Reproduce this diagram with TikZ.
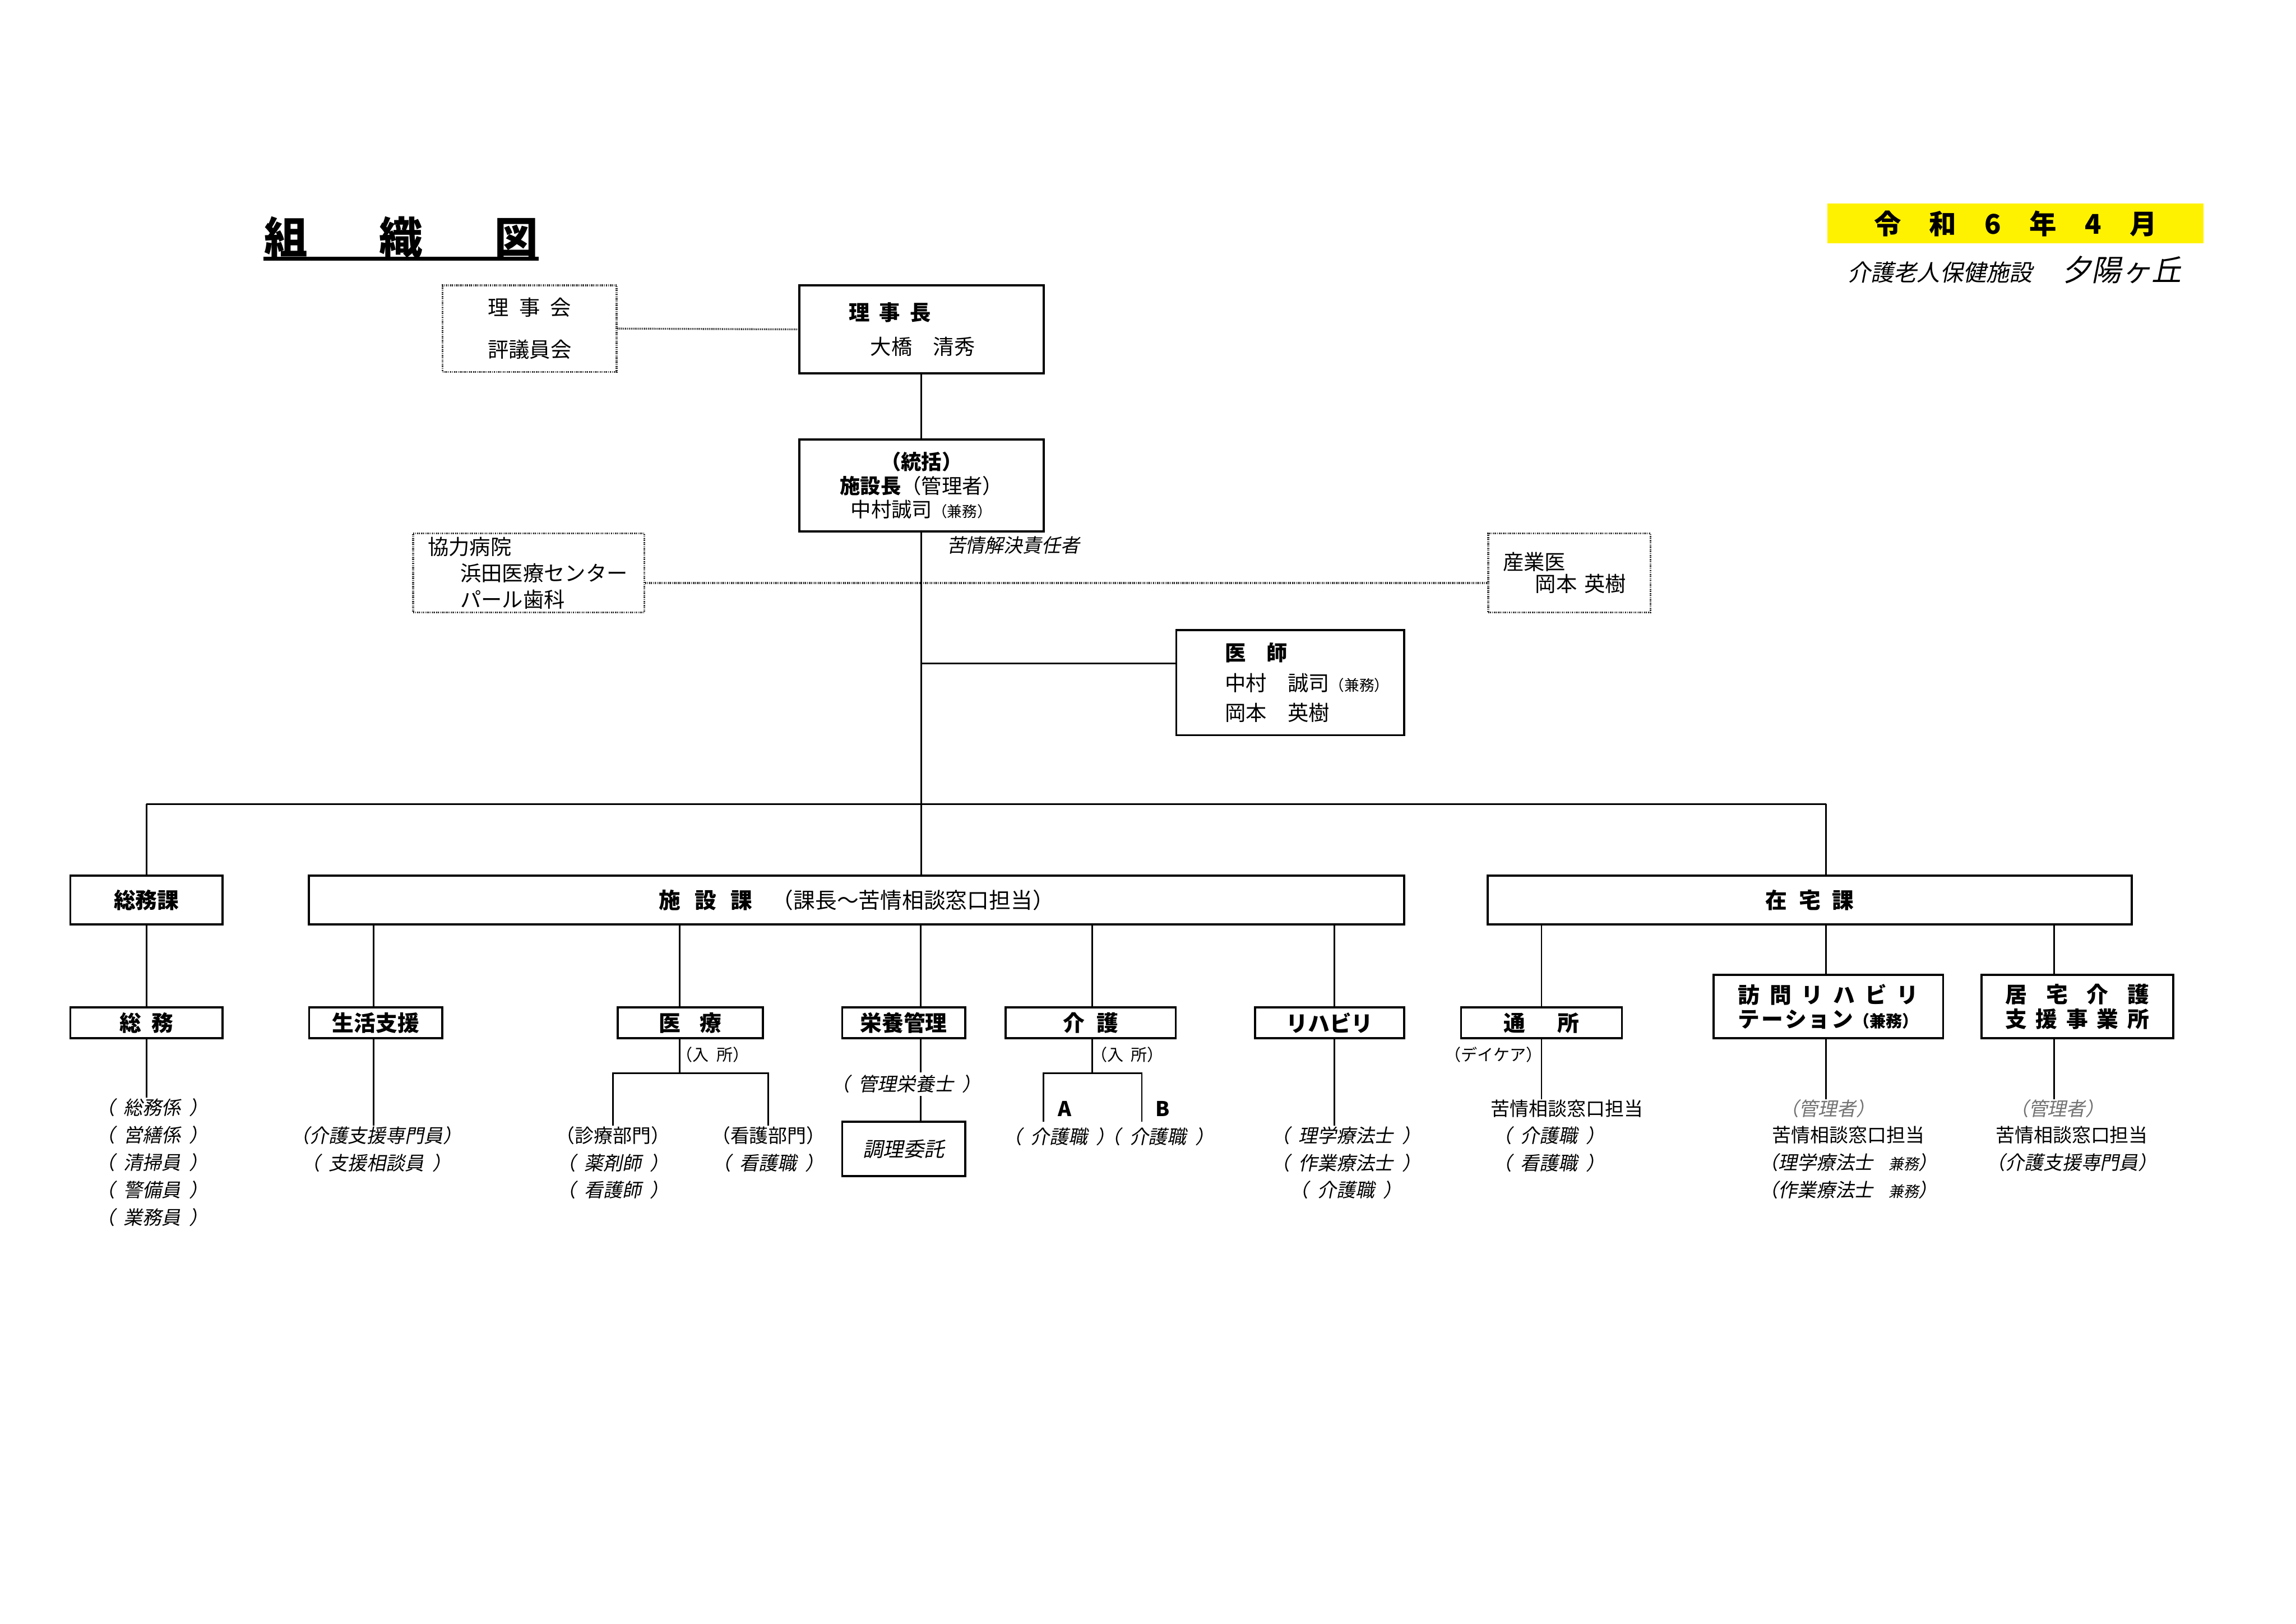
\documentclass[tikz,border=0pt]{standalone}
\usepackage{fontspec}
\setmainfont{Noto Sans CJK JP}[ItalicFont={Noto Sans CJK JP}, ItalicFeatures={FakeSlant=0.2}]
\usetikzlibrary{calc}
\newcommand{\widespace}{\spaceskip=0.45em\relax}
\tikzset{
    box/.style = {rectangle, draw=black, line width=0.75pt, inner sep=0pt, align=center, font=\fontsize{8}{9.5}\selectfont\bfseries},
    namebox/.style = {rectangle, draw=black, line width=0.75pt, inner sep=0pt, align=left, font=\fontsize{7.7}{9}\selectfont},
    dotbox/.style = {rectangle, draw=black!85, dash pattern=on 0.35pt off 0.35pt, line width=0.7pt, inner sep=0pt, align=left, font=\fontsize{7.7}{9.7}\selectfont},
    conn/.style = {line width=0.6pt},
    dotline/.style = {draw=black!85, dash pattern=on 0.35pt off 0.35pt, line width=0.7pt},
    staff/.style = {inner sep=0pt, align=center, anchor=north, font=\fontsize{7}{10.1}\selectfont\itshape\widespace},
    note/.style = {inner sep=0pt, font=\fontsize{6}{7}\selectfont\widespace}
}

\begin{document}
\begin{tikzpicture}
\useasboundingbox[fill=white] (0,0) rectangle (29.7,-21.0);

% heading
\node[inner sep=0pt, font=\fontsize{16}{18}\selectfont\bfseries] (title) at (5.19,-3.07) {組\hspace{0.93cm}織\hspace{0.93cm}図};
\draw[line width=1.3pt] (title.south west) -- (title.south east);
\node[fill=yellow, minimum width=4.87cm, minimum height=0.51cm, inner sep=0pt, font=\fontsize{10}{12}\selectfont\bfseries] (date) at (26.07,-2.89) {\makebox[3.66cm][s]{令\hfill 和\hfill 6\hfill 年\hfill 4\hfill 月}};
\node[inner sep=0pt, font=\itshape] (facility) at (26.06,-3.49) {{\fontsize{8.5}{10}\selectfont 介護老人保健施設}\hspace{0.38cm}{\fontsize{11}{13}\selectfont 夕陽ヶ丘}};

% top management
\node[dotbox, align=center, minimum width=2.25cm, minimum height=1.12cm] (rijikai) at (6.85,-4.25) {\makebox[1.08cm][s]{理\hfill 事\hfill 会}\\[0.2cm]評議員会};
\node[namebox, minimum height=1.14cm, text width=1.88cm, inner xsep=0.64cm] (rijicho) at (11.92,-4.26) {\textbf{\makebox[1.06cm][s]{理\hfill 事\hfill 長}}\\[0.12cm]\hspace*{0.28cm}大橋　清秀};
\node[namebox, align=center, minimum width=3.16cm, minimum height=1.19cm, font=\fontsize{7.5}{8.8}\selectfont] (shisetsucho) at (11.92,-6.28) {\textbf{（統括）}\\\textbf{施設長}（管理者）\\中村誠司{\fontsize{5.5}{6}\selectfont（兼務）}};
\node[note, anchor=west, font=\fontsize{7}{8}\selectfont\itshape] (kujo) at (12.24,-7.05) {苦情解決責任者};
\node[dotbox, minimum height=1.02cm, text width=2.61cm, inner xsep=0.19cm] (kyoryoku) at (6.84,-7.41) {協力病院\\\hspace*{0.42cm}浜田医療センター\\\hspace*{0.42cm}パール歯科};
\node[dotbox, minimum height=1.02cm, text width=1.72cm, inner xsep=0.19cm, font=\fontsize{7.7}{8}\selectfont] (sangyoui) at (20.30,-7.41) {産業医\\\hspace*{0.42cm}岡本 英樹};
\node[namebox, minimum height=1.36cm, text width=1.69cm, inner xsep=0.63cm, font=\fontsize{7.7}{11}\selectfont] (ishi) at (16.69,-8.83) {\textbf{医　師}\\中村　誠司{\fontsize{5.5}{6}\selectfont（兼務）}\\岡本　英樹};

% sections
\node[box, minimum width=1.97cm, minimum height=0.63cm] (soumuka) at (1.895,-11.64) {総務課};
\node[box, minimum width=14.17cm, minimum height=0.63cm] (shisetsuka) at (11.08,-11.64) {\makebox[1.21cm][s]{施\hfill 設\hfill 課}\hspace{0.25cm}\mdseries（課長～苦情相談窓口担当）};
\node[box, minimum width=8.33cm, minimum height=0.63cm] (zaitakuka) at (23.41,-11.64) {\makebox[1.14cm][s]{在\hfill 宅\hfill 課}};

% units
\node[box, minimum width=1.97cm, minimum height=0.40cm] (soumu) at (1.895,-13.23) {\makebox[0.70cm][s]{総\hfill 務}};
\node[box, minimum width=1.72cm, minimum height=0.40cm] (seikatsu) at (4.86,-13.23) {生活支援};
\node[box, minimum width=1.88cm, minimum height=0.40cm] (iryo) at (8.93,-13.23) {\makebox[0.81cm][s]{医\hfill 療}};
\node[box, minimum width=1.59cm, minimum height=0.40cm] (eiyo) at (11.69,-13.23) {栄養管理};
\node[box, minimum width=2.20cm, minimum height=0.40cm] (kaigo) at (14.11,-13.23) {\makebox[0.72cm][s]{介\hfill 護}};
\node[box, minimum width=1.93cm, minimum height=0.40cm] (riha) at (17.20,-13.23) {リハビリ};
\node[box, minimum width=2.08cm, minimum height=0.40cm] (tsusho) at (19.94,-13.23) {\makebox[0.98cm][s]{通\hfill 所}};
\node[box, minimum width=2.97cm, minimum height=0.82cm, font=\fontsize{8}{9}\selectfont\bfseries] (houmon) at (23.65,-13.02) {\makebox[2.33cm][s]{訪\hfill 問\hfill リ\hfill ハ\hfill ビ\hfill リ}\\\makebox[2.33cm][s]{テ\hfill ー\hfill シ\hfill ョ\hfill ン{\fontsize{6}{7}\selectfont（兼務）}}};
\node[box, minimum width=2.48cm, minimum height=0.82cm, font=\fontsize{8}{9}\selectfont\bfseries] (kyotaku) at (26.87,-13.02) {\makebox[1.86cm][s]{居\hfill 宅\hfill 介\hfill 護}\\\makebox[1.86cm][s]{支\hfill 援\hfill 事\hfill 業\hfill 所}};

% main lines
\draw[dotline] (rijikai.east) -- (rijicho.west);
\draw[conn] (rijicho) -- (shisetsucho);
\draw[dotline] ([yshift=-0.13cm]kyoryoku.east) -- ([yshift=-0.13cm]sangyoui.west);
\draw[conn] (shisetsucho.south) -- (shisetsucho.south |- shisetsuka.north);
\coordinate (ishijoin) at (11.92,-8.58);
\draw[conn] (ishijoin) -- (ishijoin -| ishi.west);
\coordinate (busl) at (1.895,-10.40);
\coordinate (busr) at (23.62,-10.40);
\draw[conn] (busl) -- (busr);
\draw[conn] (busl) -- (busl |- soumuka.north);
\draw[conn] (busr) -- (busr |- zaitakuka.north);

\draw[conn] (soumuka) -- (soumu);
\foreach \x/\n in {4.83/seikatsu, 8.79/iryo, 11.91/eiyo, 14.13/kaigo, 17.26/riha}
    \draw[conn] (shisetsuka.south -| \x,0) -- (\n.north -| \x,0);
\foreach \x/\n in {19.94/tsusho, 23.62/houmon, 26.57/kyotaku}
    \draw[conn] (zaitakuka.south -| \x,0) -- (\n.north -| \x,0);

% staff
\node[staff] (soumustaff) at (1.97,-14.20) {（ 総務係 ）\\（ 営繕係 ）\\（ 清掃員 ）\\（ 警備員 ）\\（ 業務員 ）};
\draw[conn] (soumu) -- (soumu.south |- soumustaff.north);

\node[staff] (seikatsustaff) at (4.87,-14.56) {（介護支援専門員）\\（ 支援相談員 ）};
\draw[conn] (seikatsu.south -| 4.83,0) -- (seikatsustaff.north -| 4.83,0);

\coordinate (iryofork) at (8.79,-13.88);
\node[note] (iryonyusho) at (9.22,-13.64) {（入 所）};
\node[staff] (shinryo) at (7.93,-14.56) {{\upshape（診療部門）}\\（ 薬剤師 ）\\（ 看護師 ）};
\node[staff] (kangobu) at (9.94,-14.56) {{\upshape（看護部門）}\\（ 看護職 ）};
\draw[conn] (iryo.south -| iryofork) -- (iryofork);
\draw[conn] (shinryo.north) |- (iryofork) -| (kangobu.north);

\node[box, font=\fontsize{7.5}{9}\selectfont\itshape, minimum width=1.59cm, minimum height=0.70cm] (chouri) at (11.69,-14.86) {調理委託};
\draw[conn] (eiyo.south -| 11.91,0) -- (chouri.north -| 11.91,0);
\node[staff, anchor=center, fill=white, inner sep=1pt] (eiyostaff) at (11.72,-14.02) {（ 管理栄養士 ）};

\coordinate (kaigofork) at (14.13,-13.88);
\coordinate (kaigoa) at (13.50,-14.51);
\coordinate (kaigob) at (14.77,-14.51);
\node[note] (kaigonyusho) at (14.58,-13.64) {（入 所）};
\draw[conn] (kaigo.south -| kaigofork) -- (kaigofork);
\draw[conn] (kaigoa) |- (kaigofork) -| (kaigob);
\node[note, font=\fontsize{7.5}{9}\selectfont\bfseries] (unita) at (13.77,-14.34) {A};
\node[note, font=\fontsize{7.5}{9}\selectfont\bfseries] (unitb) at (15.04,-14.34) {B};
\node[staff, anchor=center] (kaigostaffa) at (13.70,-14.70) {（ 介護職 ）};
\node[staff, anchor=center] (kaigostaffb) at (14.98,-14.70) {（ 介護職 ）};

\node[staff] (rihastaff) at (17.41,-14.56) {（ 理学療法士 ）\\（ 作業療法士 ）\\（ 介護職 ）};
\draw[conn] (riha.south -| 17.26,0) -- (rihastaff.north -| 17.26,0);

\node[note] (daycare) at (19.32,-13.64) {（デイケア）};
\node[staff, anchor=center, font=\fontsize{7}{10.1}\selectfont] (tsusholead) at (20.27,-14.34) {苦情相談窓口担当};
\node[staff] (tsushostaff) at (20.04,-14.56) {（ 介護職 ）\\（ 看護職 ）};
\draw[conn] (tsusho) -- (tsusho.south |- tsusholead.north);

\node[staff, anchor=center, text=black!55] (houmonmgr) at (23.64,-14.34) {（管理者）};
\node[staff, font=\fontsize{7}{10.1}\selectfont] (houmonstaff) at (23.91,-14.56) {苦情相談窓口担当\\{\itshape（理学療法士\hspace{0.2cm}{\fontsize{5.5}{6}\selectfont 兼務}）}\\{\itshape（作業療法士\hspace{0.2cm}{\fontsize{5.5}{6}\selectfont 兼務}）}};
\draw[conn] (houmon.south -| 23.62,0) -- (houmonmgr.north -| 23.62,0);

\node[staff, anchor=center, text=black!55] (kyotakumgr) at (26.61,-14.34) {（管理者）};
\node[staff, font=\fontsize{7}{10.1}\selectfont] (kyotakustaff) at (26.80,-14.56) {苦情相談窓口担当\\{\itshape（介護支援専門員）}};
\draw[conn] (kyotaku.south -| 26.57,0) -- (kyotakumgr.north -| 26.57,0);
\end{tikzpicture}
\end{document}
